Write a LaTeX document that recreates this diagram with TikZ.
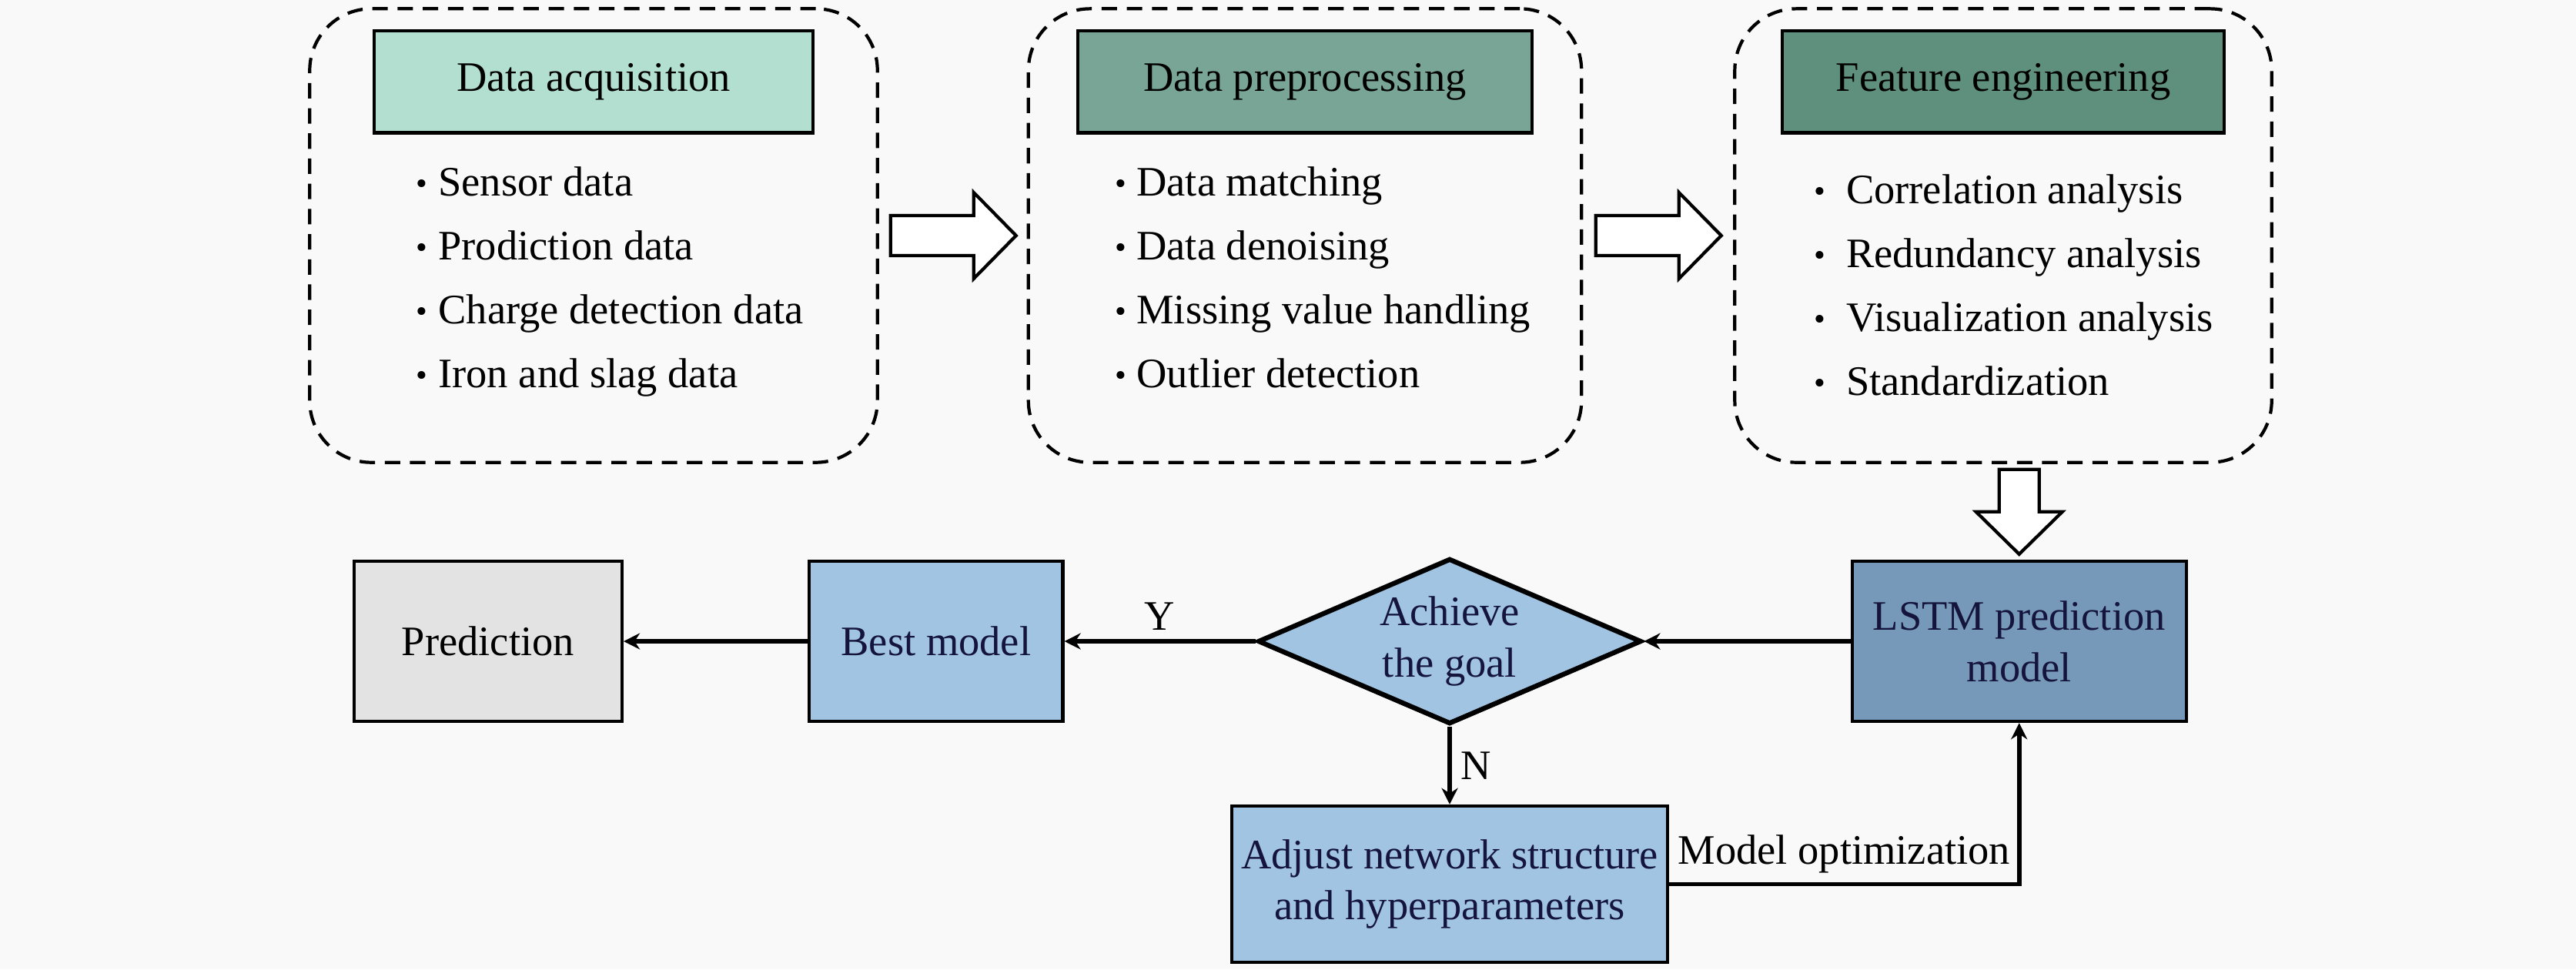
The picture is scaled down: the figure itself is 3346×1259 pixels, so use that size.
\documentclass[tikz,border=0pt]{standalone}
\usepackage{fontspec}
\setmainfont{Liberation Serif}
\usetikzlibrary{positioning}
\usetikzlibrary{calc}
\usetikzlibrary{shapes.geometric}
\usetikzlibrary{arrows.meta}

\definecolor{bgcol}{HTML}{F9F9F9}
\definecolor{acqcol}{HTML}{B3DFD1}
\definecolor{precol}{HTML}{78A595}
\definecolor{featcol}{HTML}{5F8F7D}
\definecolor{predcol}{HTML}{E3E3E3}
\definecolor{bluecol}{HTML}{A0C4E1}
\definecolor{lstmcol}{HTML}{7799B9}
\definecolor{navy}{HTML}{14143C}

\newcommand{\itm}{\raisebox{0.6pt}{\fontsize{12}{12}\selectfont\textbullet}\ }

\begin{document}
\begin{tikzpicture}[x=0.01cm,y=-0.01cm,->,>={Stealth[length=6pt,width=6pt]},line width=1.7pt,
			font=\fontsize{15.5}{19}\selectfont]
			\tikzstyle{stagebox}=[draw,dash pattern=on 5.7pt off 3.6pt,line width=1.2pt,rounded corners=0.8cm,minimum height=5.89cm]
			\tikzstyle{headbox}=[draw,line width=1.2pt,minimum height=1.32cm]
			\tikzstyle{itemlist}=[align=left,inner sep=0pt,anchor=north west,font=\fontsize{15.5}{23.6}\selectfont]
			\tikzstyle{procbox}=[draw,line width=1.2pt,minimum height=2.08cm,align=center]
			\tikzstyle{decisionbox}=[diamond,draw,line width=1.8pt,fill=bluecol,aspect=2.32,minimum width=4.98cm,
			minimum height=2.15cm,inner sep=0pt,align=center,text=navy]
			\tikzstyle{hollowarrow}=[draw,-,line width=1.2pt,fill=white,line join=miter]
			
			\fill[bgcol,-] (0,0) rectangle (3346,1259);
			\useasboundingbox (0,0) rectangle (3346,1259);
			
			% top row
			\node[stagebox,minimum width=7.37cm] (acq)  at (771,306)  {};
			\node[stagebox,minimum width=7.18cm] (pre)  at (1695,306) {};
			\node[stagebox,minimum width=6.97cm] (feat) at (2602,306) {};
			
			\node[headbox,fill=acqcol,minimum width=5.70cm]  (acq-h)  [below=0.29cm of acq.north]  {Data acquisition};
			\node[headbox,fill=precol,minimum width=5.90cm]  (pre-h)  [below=0.29cm of pre.north]  {Data preprocessing};
			\node[headbox,fill=featcol,minimum width=5.74cm] (feat-h) [below=0.29cm of feat.north] {Feature engineering};
			
			\node[itemlist] (acq-l) at (538,214) {\itm Sensor data\\ \itm Prodiction data\\ \itm Charge detection data\\ \itm Iron and slag data};
			\node[itemlist] (pre-l) at (1445,214) {\itm Data matching\\ \itm Data denoising\\ \itm Missing value handling\\ \itm Outlier detection};
			\node[itemlist] (feat-l) at (2353,224) {\itm\ Correlation analysis\\ \itm\ Redundancy analysis\\ \itm\ Visualization analysis\\ \itm\ Standardization};
			
			\draw[hollowarrow,shift={($(acq.east)!0.5!(pre.west)$)}] (-81,-26) -- (27,-26) -- (27,-56) -- (82,0) -- (27,56) -- (27,26) -- (-81,26) -- cycle;
			\draw[hollowarrow,shift={($(pre.east)!0.5!(feat.west)$)}] (-81,-26) -- (27,-26) -- (27,-56) -- (82,0) -- (27,56) -- (27,26) -- (-81,26) -- cycle;
			
			% bottom row
			\node[decisionbox] (goal) at (1883,833) {Achieve\\the goal};
			\node[procbox,fill=bluecol,minimum width=3.29cm,text=navy] (best) [left=2.48cm of goal]  {Best model};
			\node[procbox,fill=predcol,minimum width=3.48cm]           (pred) [left=2.39cm of best]  {Prediction};
			\node[procbox,fill=lstmcol,minimum width=4.34cm,text=navy] (lstm) [right=2.68cm of goal] {LSTM prediction\\model};
			\node[procbox,fill=bluecol,minimum width=5.47cm,minimum height=2.03cm,text=navy] (adjust) [below=1.01cm of goal] {Adjust network structure\\and hyperparameters};
			
			\draw[hollowarrow,shift={($(feat.south -| lstm.north)!0.5!(lstm.north)$)}] (-26,-55) -- (26,-55) -- (26,0) -- (56,0) -- (0,55) -- (-56,0) -- (-26,0) -- cycle;
			
			\path (lstm) edge (goal)
			(goal) edge node[above] {Y} (best)
			(best) edge (pred)
			(goal) edge node[right] {N} (adjust);
			\draw (adjust.east) -| node[above,pos=0.25] {Model optimization} (lstm.south);
			\end{tikzpicture}
\end{document}
